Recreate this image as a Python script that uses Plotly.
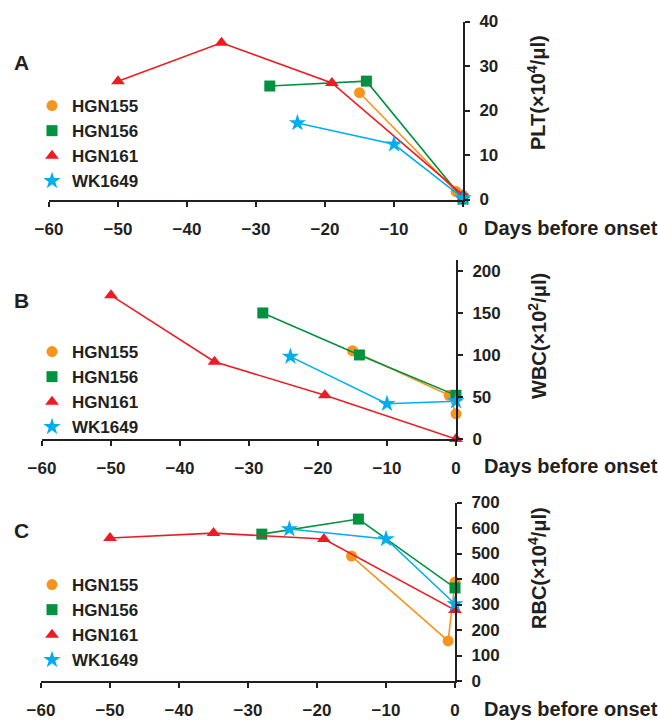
import plotly.graph_objects as go

# ---------------- data ----------------
series_names = ["HGN155", "HGN156", "HGN161", "WK1649"]

# Panel A : PLT (x10^4/ul)
A_HGN155_days = [-15, -1, 0];        A_HGN155_vals = [24.0, 1.8, 0.9]
A_HGN156_days = [-28, -14, 0];       A_HGN156_vals = [25.5, 26.6, 0.1]
A_HGN161_days = [-50, -35, -19, 0];  A_HGN161_vals = [26.6, 35.2, 26.2, 1.0]
A_WK1649_days = [-24, -10, 0];       A_WK1649_vals = [17.2, 12.4, 0.3]

# Panel B : WBC (x10^2/ul)
B_HGN155_days = [-15, -1, 0];        B_HGN155_vals = [105, 52, 30]
B_HGN156_days = [-28, -14, 0];       B_HGN156_vals = [150, 100, 52]
B_HGN161_days = [-50, -35, -19, 0];  B_HGN161_vals = [171, 92, 52, 0]
B_WK1649_days = [-24, -10, 0];       B_WK1649_vals = [98, 42, 45]

# Panel C : RBC (x10^4/ul)
C_HGN155_days = [-15, -1, 0];        C_HGN155_vals = [490, 157, 388]
C_HGN156_days = [-28, -14, 0];       C_HGN156_vals = [576, 635, 365]
C_HGN161_days = [-50, -35, -19, 0];  C_HGN161_vals = [561, 580, 557, 278]
C_WK1649_days = [-24, -10, 0];       C_WK1649_vals = [596, 557, 302]

x_ticks = [-60, -50, -40, -30, -20, -10, 0]
A_yticks = [0, 10, 20, 30, 40]
B_yticks = [0, 50, 100, 150, 200]
C_yticks = [0, 100, 200, 300, 400, 500, 600, 700]

panel_letters = ["A", "B", "C"]
y_titles = ["PLT(×10<sup>4</sup>/μl)", "WBC(×10<sup>2</sup>/μl)", "RBC(×10<sup>4</sup>/μl)"]
x_title = "Days before onset"

# ---------------- style ----------------
W, H = 658, 720
FONT = "Liberation Sans, Arial, sans-serif"
INK = "#231F20"
colors = {"HGN155": "#F7941D", "HGN156": "#00923F", "HGN161": "#ED1C24", "WK1649": "#00AEEF"}
symbols = {"HGN155": "circle", "HGN156": "square", "HGN161": "triangle-up", "WK1649": "star"}
msize = {"HGN155": 11, "HGN156": 11, "HGN161": 12, "WK1649": 13}

def px_x(p):
    return p / W

def px_y(p):
    return 1 - p / H

panels = [
    dict(data={"HGN155": (A_HGN155_days, A_HGN155_vals), "HGN156": (A_HGN156_days, A_HGN156_vals),
               "HGN161": (A_HGN161_days, A_HGN161_vals), "WK1649": (A_WK1649_days, A_WK1649_vals)},
         xdom=(49, 463), ydom=(199.5, 21.5), yrange=[0, 40], yticks=A_yticks,
         letter_y=62, ytitle_y=93, xtitle_y=228, legend_y=88),
    dict(data={"HGN155": (B_HGN155_days, B_HGN155_vals), "HGN156": (B_HGN156_days, B_HGN156_vals),
               "HGN161": (B_HGN161_days, B_HGN161_vals), "WK1649": (B_WK1649_days, B_WK1649_vals)},
         xdom=(42, 456), ydom=(439, 260), yrange=[0, 213], yticks=B_yticks,
         letter_y=300, ytitle_y=336, xtitle_y=466, legend_y=334),
    dict(data={"HGN155": (C_HGN155_days, C_HGN155_vals), "HGN156": (C_HGN156_days, C_HGN156_vals),
               "HGN161": (C_HGN161_days, C_HGN161_vals), "WK1649": (C_WK1649_days, C_WK1649_vals)},
         xdom=(41, 455), ydom=(681, 502.5), yrange=[0, 700], yticks=C_yticks,
         letter_y=530, ytitle_y=568, xtitle_y=709, legend_y=567),
]

fig = go.Figure()
annotations = []
layout = {}
for i, p in enumerate(panels):
    n = i + 1
    xa = "x" if n == 1 else f"x{n}"
    ya = "y" if n == 1 else f"y{n}"
    leg = "legend" if n == 1 else f"legend{n}"
    for name in series_names:
        d, v = p["data"][name]
        fig.add_trace(go.Scatter(
            x=d, y=v, mode="lines+markers", xaxis=xa, yaxis=ya, showlegend=False,
            line=dict(color=colors[name], width=1.6),
            marker=dict(color=colors[name], symbol=symbols[name], size=msize[name], line=dict(width=0)),
            cliponaxis=False, hoverinfo="skip"))
    for name in series_names:
        fig.add_trace(go.Scatter(
            x=[None], y=[None], mode="markers", xaxis=xa, yaxis=ya, name=name, legend=leg,
            marker=dict(color=colors[name], symbol=symbols[name], size=msize[name], line=dict(width=0))))
    axkey_x = "xaxis" if n == 1 else f"xaxis{n}"
    axkey_y = "yaxis" if n == 1 else f"yaxis{n}"
    layout[axkey_x] = dict(
        domain=[px_x(p["xdom"][0]), px_x(p["xdom"][1])], range=[-60, 0], anchor=ya,
        tickvals=x_ticks, ticks="outside", ticklen=5, tickwidth=1.6, tickcolor=INK,
        showline=True, linecolor=INK, linewidth=2, showgrid=False, zeroline=False,
        tickfont=dict(family=FONT, size=17, color=INK), ticklabelstandoff=8)
    layout[axkey_y] = dict(
        domain=[px_y(p["ydom"][0]), px_y(p["ydom"][1])], range=p["yrange"], anchor=xa,
        side="right", tickvals=p["yticks"], ticks="outside", ticklen=5, tickwidth=1.6, tickcolor=INK,
        showline=True, linecolor=INK, linewidth=2, showgrid=False, zeroline=False,
        tickfont=dict(family=FONT, size=17, color=INK), ticklabelstandoff=6)
    layout[leg] = dict(
        x=px_x(32), y=px_y(p["legend_y"]), xanchor="left", yanchor="top",
        bgcolor="rgba(0,0,0,0)", font=dict(family=FONT, size=17, color=INK),
        itemwidth=30, tracegroupgap=0)
    annotations.append(dict(
        text=f"<b>{panel_letters[i]}</b>", x=px_x(21), y=px_y(p["letter_y"]), xref="paper", yref="paper",
        showarrow=False, font=dict(family=FONT, size=21, color=INK), xanchor="center", yanchor="middle"))
    annotations.append(dict(
        text=f"<b>{y_titles[i]}</b>", x=px_x(537), y=px_y(p["ytitle_y"]), xref="paper", yref="paper",
        textangle=-90, showarrow=False, font=dict(family=FONT, size=20, color=INK),
        xanchor="center", yanchor="middle"))
    annotations.append(dict(
        text=f"<b>{x_title}</b>", x=px_x(482), y=px_y(p["xtitle_y"]), xref="paper", yref="paper",
        showarrow=False, font=dict(family=FONT, size=20, color=INK), xanchor="left", yanchor="middle"))

fig.update_layout(
    width=W, height=H, margin=dict(l=0, r=0, t=0, b=0, pad=0, autoexpand=False),
    paper_bgcolor="white", plot_bgcolor="white",
    font=dict(family=FONT, color=INK, weight="bold"),
    annotations=annotations, **layout)

fig.write_html("out.html", config={"displayModeBar": False},
               post_script="document.body.style.margin='0';document.body.style.overflow='hidden';")
